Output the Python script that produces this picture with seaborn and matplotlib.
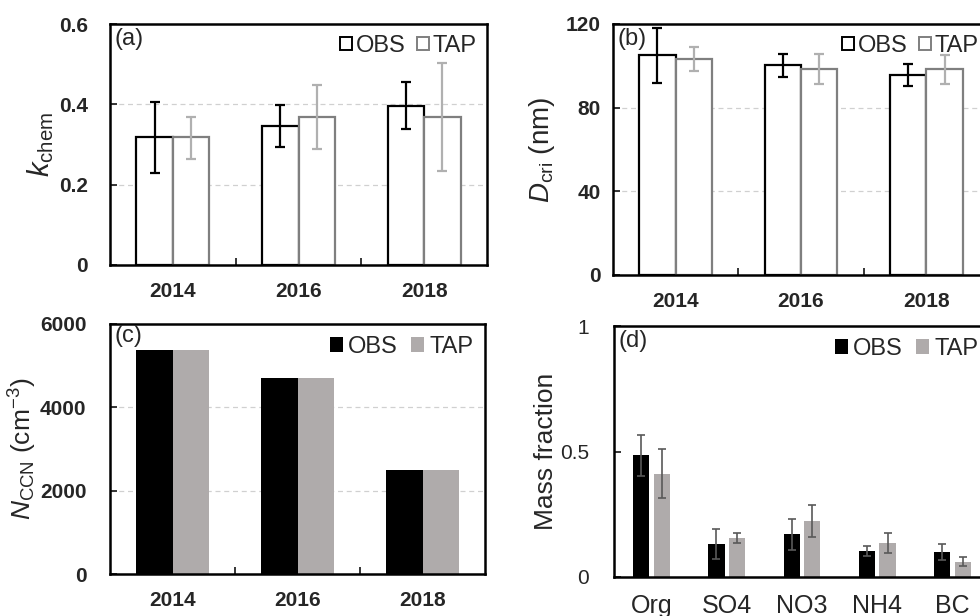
import numpy as np
import pandas as pd
import matplotlib
matplotlib.use("Agg")
import matplotlib.pyplot as plt
from matplotlib.patches import Patch
import seaborn as sns

# ---- data ----
years = ["2014", "2016", "2018"]
sources = ["OBS", "TAP"]

kappa_obs = [0.319, 0.346, 0.396]
kappa_obs_lo = [0.230, 0.294, 0.338]
kappa_obs_hi = [0.407, 0.398, 0.456]
kappa_tap = [0.318, 0.369, 0.369]
kappa_tap_lo = [0.265, 0.289, 0.235]
kappa_tap_hi = [0.369, 0.448, 0.504]

dcri_obs = [105.2, 100.4, 95.7]
dcri_obs_lo = [92.0, 94.5, 90.4]
dcri_obs_hi = [117.9, 105.8, 100.9]
dcri_tap = [103.1, 98.5, 98.4]
dcri_tap_lo = [97.6, 91.2, 91.2]
dcri_tap_hi = [108.9, 105.5, 105.1]

nccn_obs = [5370, 4706, 2493]
nccn_tap = [5370, 4706, 2493]

species = ["Org", "SO4", "NO3", "NH4", "BC"]
mf_obs = [0.485, 0.130, 0.170, 0.102, 0.100]
mf_obs_lo = [0.404, 0.073, 0.109, 0.082, 0.066]
mf_obs_hi = [0.565, 0.193, 0.233, 0.124, 0.132]
mf_tap = [0.412, 0.157, 0.225, 0.137, 0.060]
mf_tap_lo = [0.314, 0.136, 0.160, 0.097, 0.044]
mf_tap_hi = [0.511, 0.177, 0.287, 0.177, 0.078]

sns.set_style("white")
plt.rcParams["font.family"] = ["Liberation Sans", "DejaVu Sans"]
plt.rcParams["mathtext.fontset"] = "custom"
plt.rcParams["mathtext.rm"] = "Liberation Sans"
plt.rcParams["mathtext.it"] = "Liberation Sans:italic"
plt.rcParams["mathtext.bf"] = "Liberation Sans:bold"

W, H = 980, 616
fig = plt.figure(figsize=(9.8, 6.16), dpi=100)


def make_ax(left, top, right, bottom):
    return fig.add_axes([left / W, 1 - bottom / H, (right - left) / W, (bottom - top) / H])


def long_df(cats, obs, tap):
    return pd.DataFrame({
        "cat": list(cats) * 2,
        "src": ["OBS"] * len(cats) + ["TAP"] * len(cats),
        "val": list(obs) + list(tap),
    })


def add_err(ax, cont, vals, lo, hi, color, lw=1.6, cap=3.5):
    xs = [b.get_x() + b.get_width() / 2 for b in cont]
    v = np.array(vals)
    yerr = [v - np.array(lo), np.array(hi) - v]
    ax.errorbar(xs, v, yerr=yerr, fmt="none", ecolor=color, elinewidth=lw,
                capsize=cap, capthick=lw, zorder=5)


def style_year_axis(ax, ymax, yticks, ylabels, ypad):
    ax.set_ylim(0, ymax)
    ax.set_yticks(yticks)
    ax.set_yticklabels(ylabels, fontweight="bold", fontsize=15)
    ax.set_xticks(range(3))
    ax.set_xticklabels(years, fontweight="bold", fontsize=15)
    ax.set_xticks([0.5, 1.5], minor=True)
    ax.tick_params(axis="x", which="major", length=0, pad=12)
    ax.tick_params(axis="x", which="minor", direction="in", length=5, width=1.3, bottom=True)
    ax.tick_params(axis="y", direction="in", length=5, width=1.3, left=True, pad=ypad)
    for y in yticks[1:-1]:
        ax.axhline(y, color="#d0d0d0", lw=0.9, ls=(0, (4, 3)), zorder=0)
    for s in ax.spines.values():
        s.set_linewidth(1.8)
        s.set_color("black")
    ax.set_xlabel("")
    ax.set_xlim(-0.5, 2.5)


def hollow_legend(ax):
    h = [Patch(facecolor="white", edgecolor="black", lw=1.4),
         Patch(facecolor="white", edgecolor="#7f7f7f", lw=1.4)]
    ax.legend(h, sources, loc="upper right", ncol=2, frameon=False, fontsize=17,
              handlelength=0.5, handleheight=0.5, handletextpad=0.15,
              columnspacing=0.5, borderaxespad=0.05)


def filled_legend(ax, fs=17):
    h = [Patch(facecolor="black", edgecolor="none"),
         Patch(facecolor="#afabab", edgecolor="none")]
    ax.legend(h, sources, loc="upper right", ncol=2, frameon=False, fontsize=fs,
              handlelength=0.55, handleheight=0.55, handletextpad=0.2,
              columnspacing=0.6, borderaxespad=0.1)


# ---- (a) kappa ----
ax = make_ax(110, 24, 487, 265)
sns.barplot(data=long_df(years, kappa_obs, kappa_tap), x="cat", y="val", hue="src",
            palette=["white", "white"], width=0.58, gap=0, errorbar=None,
            legend=False, ax=ax)
for c, ec in zip(ax.containers, ["black", "#7f7f7f"]):
    for b in c:
        b.set_edgecolor(ec)
        b.set_linewidth(1.6)
add_err(ax, ax.containers[0], kappa_obs, kappa_obs_lo, kappa_obs_hi, "black")
add_err(ax, ax.containers[1], kappa_tap, kappa_tap_lo, kappa_tap_hi, "#b0b0b0")
style_year_axis(ax, 0.6, [0, 0.2, 0.4, 0.6], ["0", "0.2", "0.4", "0.6"], 16)
ax.set_ylabel(r"$\mathit{k}_{\rm chem}$", fontsize=21, labelpad=2)
ax.text(0.012, 0.985, "(a)", transform=ax.transAxes, ha="left", va="top", fontsize=17)
hollow_legend(ax)

# ---- (b) D_cri ----
ax = make_ax(613, 24, 989, 275)
sns.barplot(data=long_df(years, dcri_obs, dcri_tap), x="cat", y="val", hue="src",
            palette=["white", "white"], width=0.58, gap=0, errorbar=None,
            legend=False, ax=ax)
for c, ec in zip(ax.containers, ["black", "#7f7f7f"]):
    for b in c:
        b.set_edgecolor(ec)
        b.set_linewidth(1.6)
add_err(ax, ax.containers[0], dcri_obs, dcri_obs_lo, dcri_obs_hi, "black")
add_err(ax, ax.containers[1], dcri_tap, dcri_tap_lo, dcri_tap_hi, "#b0b0b0")
style_year_axis(ax, 120, [0, 40, 80, 120], ["0", "40", "80", "120"], 9)
ax.set_ylabel(r"$\mathit{D}_{\rm cri}$ (nm)", fontsize=20, labelpad=6)
ax.text(0.012, 0.985, "(b)", transform=ax.transAxes, ha="left", va="top", fontsize=17)
hollow_legend(ax)

# ---- (c) N_CCN ----
ax = make_ax(110, 324, 485, 574)
sns.barplot(data=long_df(years, nccn_obs, nccn_tap), x="cat", y="val", hue="src",
            palette=["black", "#afabab"], width=0.58, gap=0, errorbar=None,
            saturation=1, legend=False, ax=ax)
for c in ax.containers:
    for b in c:
        b.set_edgecolor("none")
style_year_axis(ax, 6000, [0, 2000, 4000, 6000], ["0", "2000", "4000", "6000"], 17)
ax.set_ylabel(r"$\mathit{N}_{\rm CCN}$ (cm$^{-3}$)", fontsize=19, labelpad=1)
ax.text(0.012, 0.995, "(c)", transform=ax.transAxes, ha="left", va="top", fontsize=17)
filled_legend(ax)

# ---- (d) mass fraction ----
ax = make_ax(614, 326, 990, 577)
sns.barplot(data=long_df(species, mf_obs, mf_tap), x="cat", y="val", hue="src",
            palette=["black", "#afabab"], width=0.55, gap=0.22, errorbar=None,
            saturation=1, legend=False, ax=ax)
for c in ax.containers:
    for b in c:
        b.set_edgecolor("none")
add_err(ax, ax.containers[0], mf_obs, mf_obs_lo, mf_obs_hi, "#595959", lw=1.2, cap=3)
add_err(ax, ax.containers[1], mf_tap, mf_tap_lo, mf_tap_hi, "#595959", lw=1.2, cap=3)
ax.set_xlim(-0.5, len(species) - 0.5)
ax.set_ylim(0, 1)
ax.set_yticks([0, 0.5, 1])
ax.set_yticklabels(["0", "0.5", "1"], fontsize=15)
ax.set_xticks(range(len(species)))
ax.set_xticklabels(species, fontsize=18)
ax.tick_params(axis="x", length=0, pad=12)
ax.tick_params(axis="y", direction="in", length=5, width=1.3, left=True, pad=18)
for s in ax.spines.values():
    s.set_linewidth(1.8)
    s.set_color("black")
ax.set_xlabel("")
ax.set_ylabel("Mass fraction", fontsize=19, labelpad=1)
ax.text(0.012, 0.985, "(d)", transform=ax.transAxes, ha="left", va="top", fontsize=17)
filled_legend(ax, fs=17)

fig.savefig("out.png", dpi=100)
